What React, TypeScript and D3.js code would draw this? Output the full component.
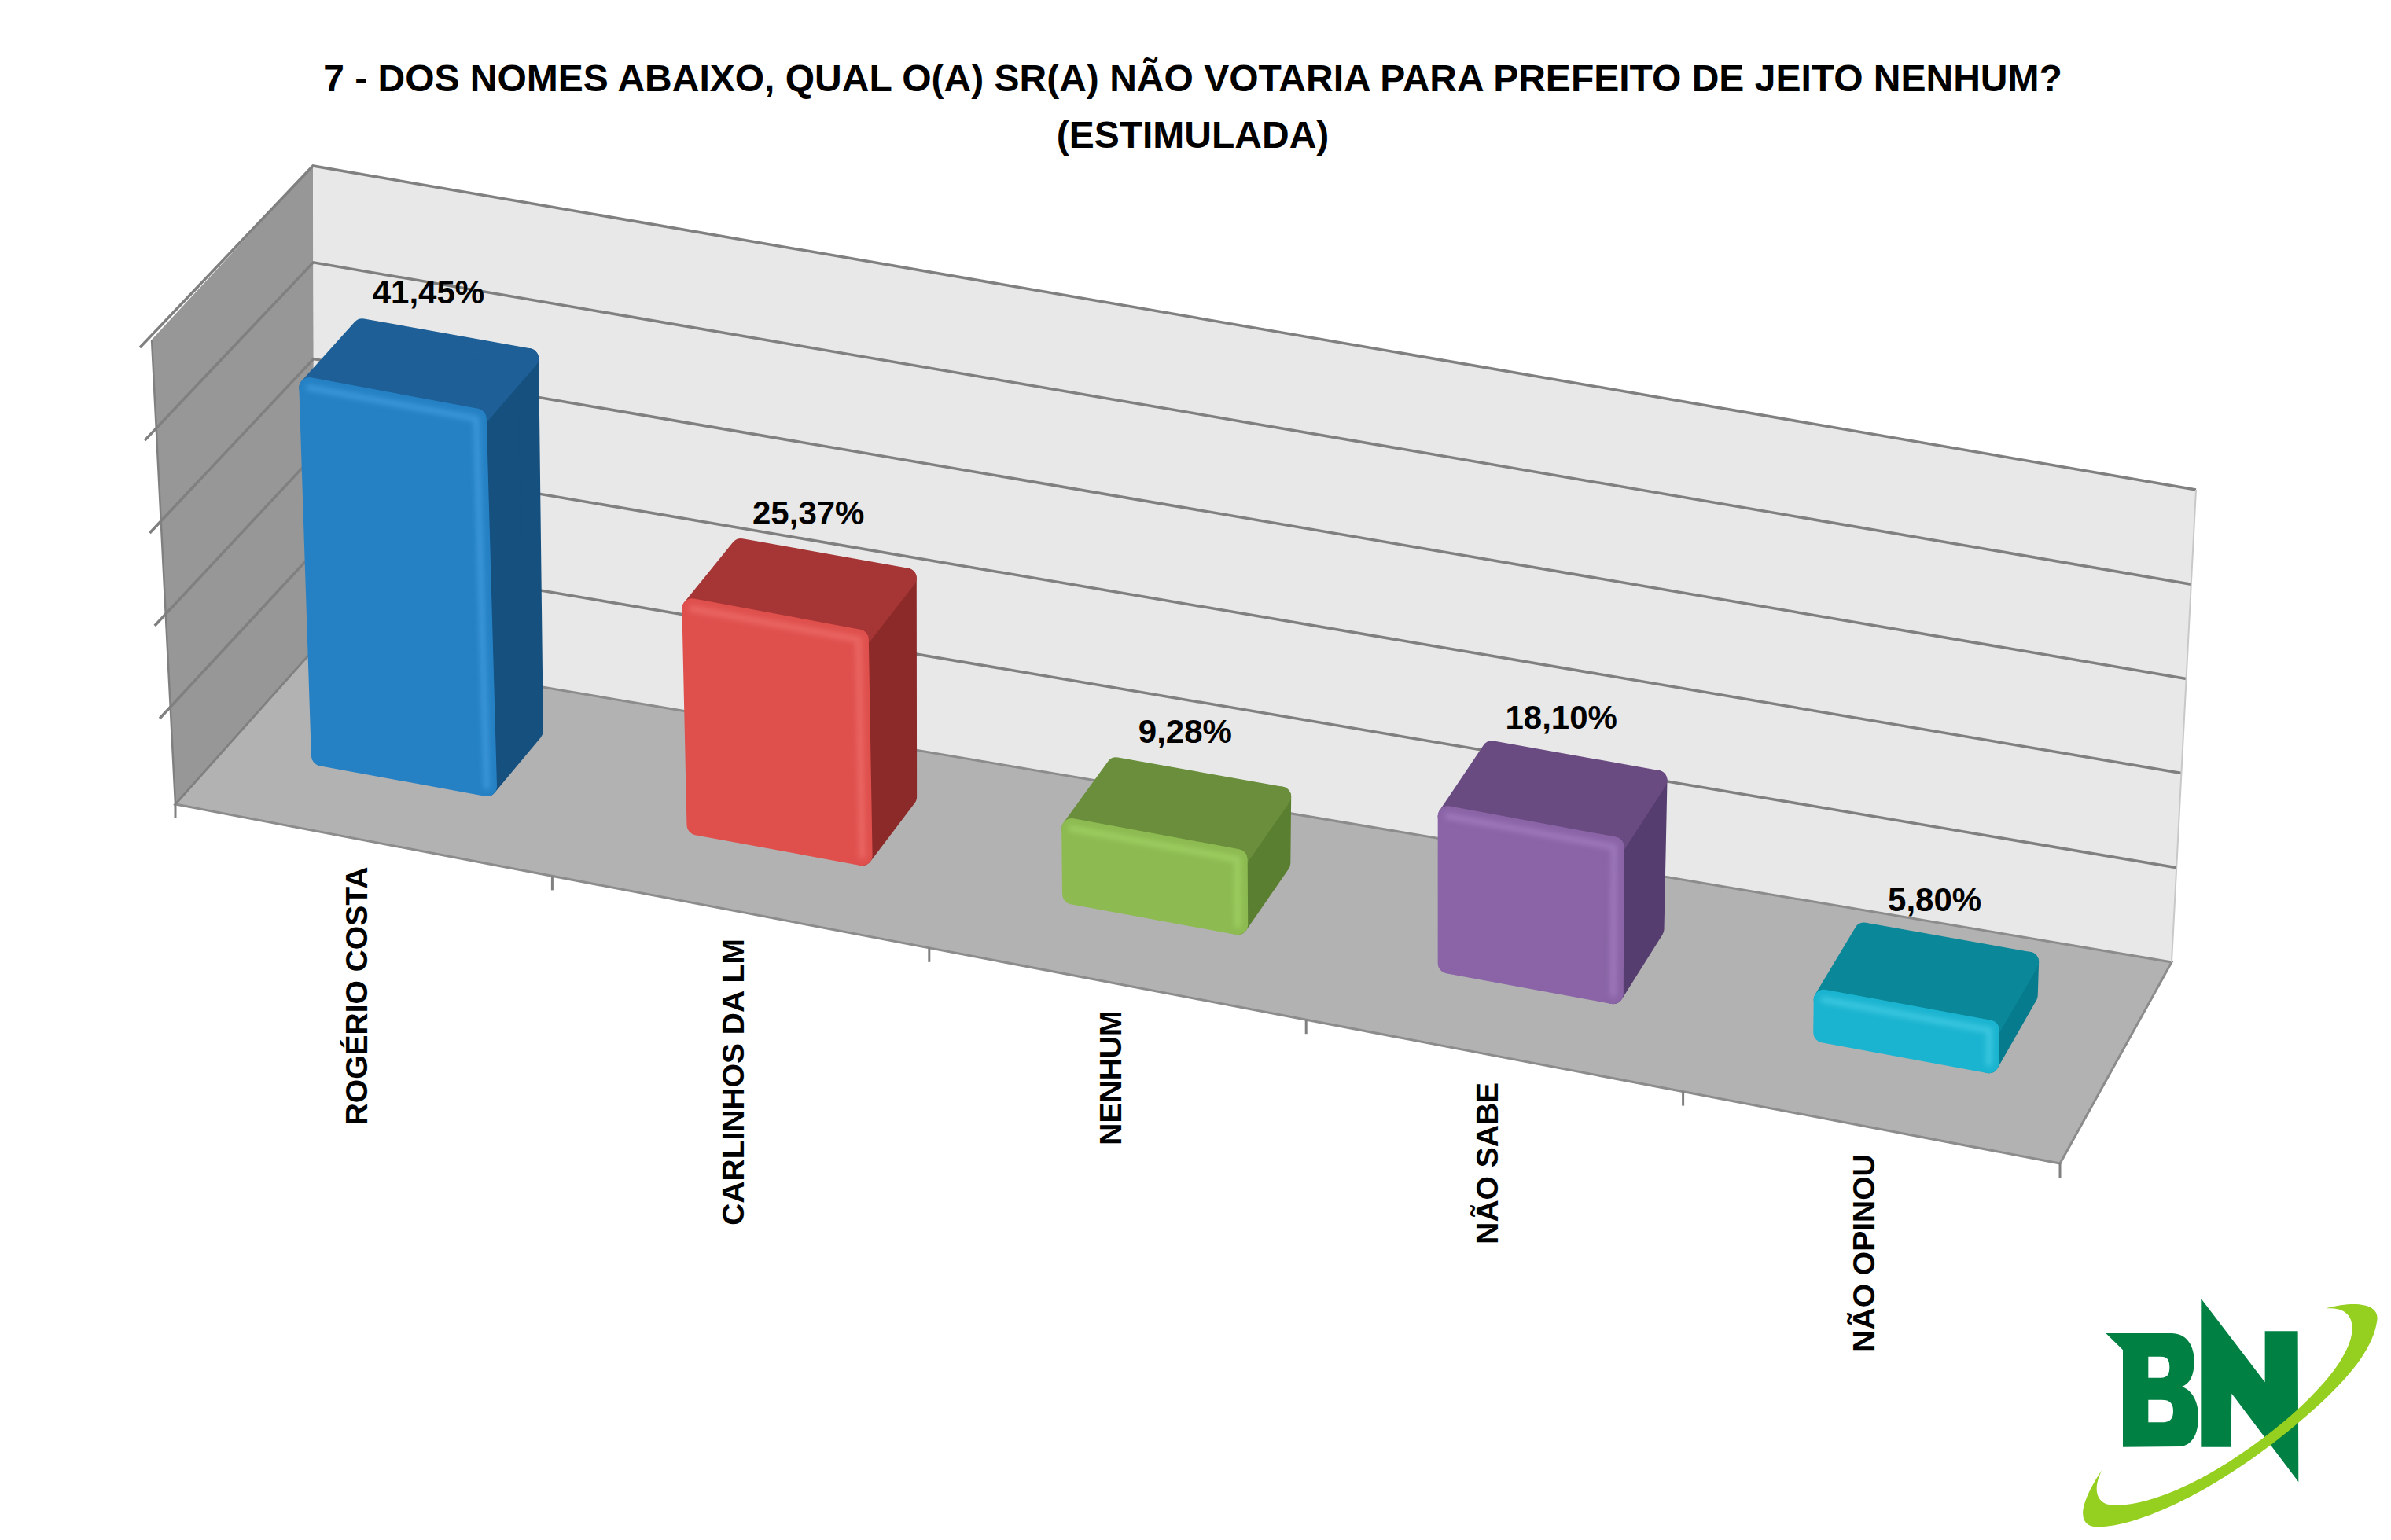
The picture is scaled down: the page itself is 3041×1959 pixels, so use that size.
import * as d3 from "d3";
import { useEffect, useRef } from "react";

const categories = ["ROGÉRIO COSTA", "CARLINHOS DA LM", "NENHUM", "NÃO SABE", "NÃO OPINOU"];
const values = [41.45, 25.37, 9.28, 18.1, 5.8];
const valueLabels = ["41,45%", "25,37%", "9,28%", "18,10%", "5,80%"];
const valueTicks = [0, 10, 20, 30, 40, 50];
const titleLines = [
  "7 - DOS NOMES ABAIXO, QUAL O(A) SR(A) NÃO VOTARIA PARA PREFEITO DE JEITO NENHUM?",
  "(ESTIMULADA)",
];

// front / side / top colours of each column
const barColors = [
  { front: "#2581C4", top: "#1D5F96", side: "#15507E", hi: "#4AA3E6" },
  { front: "#DF504D", top: "#A63535", side: "#8C2A2A", hi: "#F27572" },
  { front: "#8DBB52", top: "#6A8E3B", side: "#5A7F30", hi: "#A6D86A" },
  { front: "#8A64A6", top: "#694B82", side: "#563D70", hi: "#A884C6" },
  { front: "#1BB4D0", top: "#0A8799", side: "#077B8E", hi: "#4FD2EA" },
];

const W = 3041;
const H = 1959;

type P = [number, number];

// screen corners of the 3D box: f/b = front/back, b/t = bottom/top, l/r = left/right
const box = {
  fbl: [223, 1023] as P,
  fbr: [2620, 1480] as P,
  bbl: [400, 825] as P,
  bbr: [2762, 1224] as P,
  ftl: [193, 432] as P,
  ftr: [2623, 900] as P,
  btl: [398, 211] as P,
  btr: [2793, 623] as P,
};

const lerp = (a: P, b: P, t: number): P => [a[0] + (b[0] - a[0]) * t, a[1] + (b[1] - a[1]) * t];

// u: along categories (0..1), v: value (0..1), w: depth (0 front .. 1 back)
const proj = (u: number, v: number, w: number): P => {
  const fb = lerp(box.fbl, box.fbr, u);
  const ft = lerp(box.ftl, box.ftr, u);
  const bb = lerp(box.bbl, box.bbr, u);
  const bt = lerp(box.btl, box.btr, u);
  return lerp(lerp(fb, ft, v), lerp(bb, bt, v), w);
};

const App = () => {
  const svgRef = useRef<SVGSVGElement | null>(null);

  useEffect(() => {
    const svg = d3.select(svgRef.current);
    svg.selectAll("*").remove();

    const x = d3.scaleBand<string>().domain(categories).range([0, 1]).paddingInner(0.56).paddingOuter(0.28);
    const y = d3.scaleLinear().domain([0, 50]).range([0, 1]);
    const line = d3.line<P>();
    const poly = (pts: P[]) => line(pts) + "Z";

    const defs = svg.append("defs");
    defs.append("filter")
      .attr("id", "soft")
      .append("feGaussianBlur")
      .attr("stdDeviation", 3);

    const gridColor = "#808080";

    /* walls and floor */
    svg.append("path")
      .attr("d", poly([proj(0, 0, 0), proj(0, 0, 1), proj(0, 1, 1), proj(0, 1, 0)]))
      .attr("fill", "#979797");
    svg.append("path")
      .attr("d", poly([proj(0, 0, 1), proj(1, 0, 1), proj(1, 1, 1), proj(0, 1, 1)]))
      .attr("fill", "#E8E8E8");
    svg.append("path")
      .attr("d", poly([proj(0, 0, 0), proj(1, 0, 0), proj(1, 0, 1), proj(0, 0, 1)]))
      .attr("fill", "#B2B2B2")
      .attr("stroke", "#8C8C8C")
      .attr("stroke-width", 3);

    // gridlines on back and side walls
    valueTicks.slice(1).forEach((t) => {
      const v = y(t);
      svg.append("path")
        .attr("d", line([proj(-0.002, v, -0.05), proj(0, v, 1), proj(1, v, 1)]))
        .attr("fill", "none")
        .attr("stroke", gridColor)
        .attr("stroke-width", 3.5);
    });
    // front edge of side wall
    svg.append("path")
      .attr("d", line([proj(0, 1, 0), proj(0, 0, 0), proj(0, 0, 1)]))
      .attr("fill", "none")
      .attr("stroke", gridColor)
      .attr("stroke-width", 2.5);
    svg.append("path")
      .attr("d", line([proj(1, 0, 1), proj(1, 1, 1)]))
      .attr("fill", "none")
      .attr("stroke", "#C8C8C8")
      .attr("stroke-width", 2);

    // category tick marks on front edge
    d3.range(categories.length + 1).forEach((i) => {
      const [px, py] = proj(Math.min(1, i * x.step()), 0, 0);
      svg.append("line")
        .attr("x1", px).attr("y1", py).attr("x2", px).attr("y2", py + 18)
        .attr("stroke", gridColor)
        .attr("stroke-width", 3);
    });

    /* columns */
    const w0 = 0.3;
    const w1 = 0.64;
    const base = 0.045; // rounded bottom bevel sits a little above the floor
    categories.forEach((c, i) => {
      const u0 = x(c)!;
      const u1 = u0 + x.bandwidth();
      const v = y(values[i]);
      const col = barColors[i];
      const g = svg.append("g").attr("stroke-linejoin", "round");

      const side = [proj(u1, base, w0), proj(u1, base, w1), proj(u1, v, w1), proj(u1, v, w0)];
      const top = [proj(u0, v, w0), proj(u1, v, w0), proj(u1, v, w1), proj(u0, v, w1)];
      const front = [proj(u0, base, w0), proj(u1, base, w0), proj(u1, v, w0), proj(u0, v, w0)];

      g.append("path").attr("d", poly(side)).attr("fill", col.side).attr("stroke", col.side).attr("stroke-width", 26);
      g.append("path").attr("d", poly(top)).attr("fill", col.top).attr("stroke", col.top).attr("stroke-width", 26);
      g.append("path").attr("d", poly(front)).attr("fill", col.front).attr("stroke", col.front).attr("stroke-width", 26);

      // soft bevel highlights along the front edges
      g.append("path")
        .attr("d", line([front[3], front[2], front[1]]))
        .attr("fill", "none")
        .attr("stroke", col.hi)
        .attr("stroke-opacity", 0.6)
        .attr("stroke-width", 8)
        .attr("stroke-linecap", "round")
        .attr("filter", "url(#soft)");

      // data label above the column
      const [lx, ly] = proj(u0 + x.bandwidth() / 2, v, 0.5);
      svg.append("text")
        .attr("x", lx + 6)
        .attr("y", ly - 82)
        .attr("text-anchor", "middle")
        .attr("font-family", "'Liberation Sans', Arial, sans-serif")
        .attr("font-weight", "bold")
        .attr("font-size", 42)
        .attr("fill", "#000")
        .text(valueLabels[i]);

      // category label, rotated
      const [cx, cy] = proj(u0 + x.bandwidth() / 2, 0, 0);
      svg.append("text")
        .attr("transform", `translate(${cx - 10},${cy + 34}) rotate(-90)`)
        .attr("text-anchor", "end")
        .attr("dy", "0.36em")
        .attr("font-family", "'Liberation Sans', Arial, sans-serif")
        .attr("font-weight", "bold")
        .attr("font-size", 39)
        .attr("fill", "#000")
        .text(c);
    });

    /* title */
    titleLines.forEach((t, i) => {
      svg.append("text")
        .attr("x", 1517)
        .attr("y", 116 + i * 72)
        .attr("text-anchor", "middle")
        .attr("font-family", "'Liberation Sans', Arial, sans-serif")
        .attr("font-weight", "bold")
        .attr("font-size", 48)
        .attr("fill", "#000")
        .text(t);
    });

    /* BN logo */
    const logo = svg.append("g").attr("transform", "translate(2640,1620) scale(0.3333)");
    logo.append("path")
      .attr("fill-rule", "evenodd")
      .attr("fill", "#008042")
      .attr("d",
        "M115 228 L365 228 C420 228 452 270 452 335 C452 390 435 420 405 432 C445 445 468 490 468 545 C468 620 440 655 400 660 L180 662 L180 292 Z " +
        "M277 317 L325 317 C350 317 358 330 358 357 C358 385 350 398 325 398 L277 398 Z " +
        "M277 482 L328 482 C360 482 372 495 372 525 C372 555 360 568 328 568 L277 568 Z");
    logo.append("path")
      .attr("fill", "#008042")
      .attr("d", "M478 95 L722 415 L722 220 L848 220 L850 795 L595 458 L592 662 L478 662 Z");
    logo.append("path")
      .attr("fill", "#95CF1F")
      .attr("d",
        "M955 133 C1080 100 1160 120 1150 180 C1130 320 980 470 750 650 C500 840 250 960 90 968 C10 970 0 900 100 750 " +
        "C60 830 80 890 160 885 C320 880 560 760 800 560 C1000 390 1060 270 1055 200 C1050 140 1000 130 955 133 Z");
  }, []);

  return (
    <div style={{ position: "absolute", left: 0, top: 0 }}>
      <svg ref={svgRef} width={W} height={H} style={{ display: "block", background: "#fff" }} />
    </div>
  );
};

export default App;
